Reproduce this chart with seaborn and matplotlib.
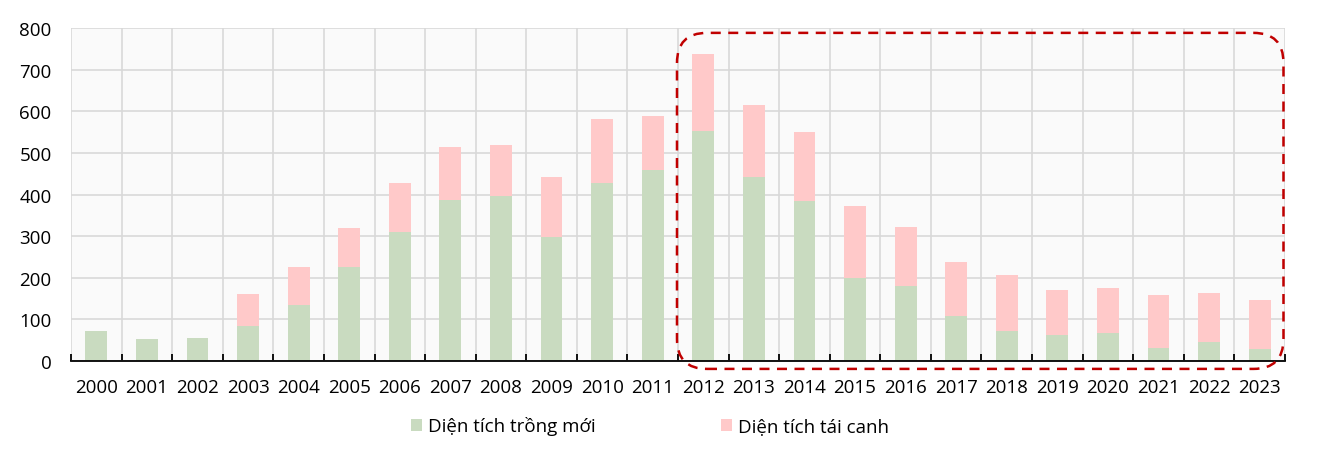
import numpy as np
import pandas as pd
import seaborn as sns
import matplotlib.pyplot as plt
from matplotlib.patches import FancyBboxPatch, Patch
from matplotlib.transforms import IdentityTransform

# Data
years = [str(y) for y in range(2000, 2024)]
trong_moi = [73, 53, 56, 85, 135, 227, 310, 388, 396, 299, 428, 460,
             553, 443, 385, 199, 181, 109, 73, 63, 68, 32, 46, 30]
tai_canh = [0, 0, 0, 77, 92, 93, 117, 127, 123, 144, 155, 130,
            185, 172, 166, 174, 142, 128, 134, 108, 107, 127, 118, 117]
y_ticks = [0, 100, 200, 300, 400, 500, 600, 700, 800]
legend_labels = ["Diện tích trồng mới", "Diện tích tái canh"]

GREEN = "#C9DBC0"
PINK = "#FFC9C9"
GRID = "#D9D9D9"

df = pd.DataFrame({"year": years, "moi": trong_moi, "tai_canh": tai_canh})
df["total"] = df["moi"] + df["tai_canh"]

sns.set_style("white")
plt.rcParams["font.family"] = ["Open Sans", "DejaVu Sans"]
plt.rcParams["text.color"] = "black"
plt.rcParams["xtick.color"] = "black"
plt.rcParams["ytick.color"] = "black"

fig = plt.figure(figsize=(13.18, 4.52), dpi=100)
ax = fig.add_axes([71 / 1318, 1 - 362 / 452, (1285 - 71) / 1318, (362 - 29.3) / 452])
ax.set_facecolor("#FAFAFA")

# stacked bars: total (pink) underneath, new planting (green) on top
sns.barplot(data=df, x="year", y="total", color=PINK, saturation=1,
            width=0.43, ax=ax, zorder=2, edgecolor="none", linewidth=0)
sns.barplot(data=df, x="year", y="moi", color=GREEN, saturation=1,
            width=0.43, ax=ax, zorder=3, edgecolor="none", linewidth=0)

ax.set_xlim(-0.5, len(years) - 0.5)
ax.set_ylim(0, 800)
ax.set_yticks(y_ticks)
ax.set_xlabel("")
ax.set_ylabel("")

# grid at category boundaries
ax.set_xticks(np.arange(-0.5, len(years), 1), minor=True)
ax.grid(True, axis="y", which="major", color=GRID, lw=1.2, zorder=0)
ax.grid(True, axis="x", which="minor", color=GRID, lw=1.2, zorder=0)
ax.grid(False, axis="x", which="major")
ax.set_axisbelow(True)

ax.tick_params(axis="x", which="major", length=0, pad=12, labelsize=13.5)
ax.tick_params(axis="x", which="minor", length=5, width=1.3, direction="in",
               color="black", bottom=True)
ax.tick_params(axis="y", length=0, pad=14, labelsize=13.5)

for side in ["top", "right", "left"]:
    ax.spines[side].set_visible(False)
ax.spines["bottom"].set_color("black")
ax.spines["bottom"].set_linewidth(1.3)
ax.spines["bottom"].set_zorder(5)

# legend
handles = [Patch(facecolor=GREEN, edgecolor="none"),
           Patch(facecolor=PINK, edgecolor="none")]
fig.legend(handles, legend_labels, loc="center", bbox_to_anchor=(650 / 1318, 1 - 427 / 452),
           ncol=2, frameon=False, fontsize=13.5, handlelength=0.6, handleheight=0.6,
           handletextpad=0.3, columnspacing=6.7)

# red dashed rounded highlight box (2012-2023)
fig.canvas.draw()
(x0, y0) = ax.transData.transform((11.48, -19))
(x1, y1) = ax.transData.transform((23.47, 789))
box = FancyBboxPatch((x0, y0), x1 - x0, y1 - y0,
                     boxstyle="round,pad=0,rounding_size=30",
                     transform=IdentityTransform(), fill=False,
                     edgecolor="#C00000", lw=1.8, linestyle=(0, (4, 3)),
                     clip_on=False, zorder=10)
fig.add_artist(box)

fig.savefig("out.png", dpi=100, facecolor="white")
